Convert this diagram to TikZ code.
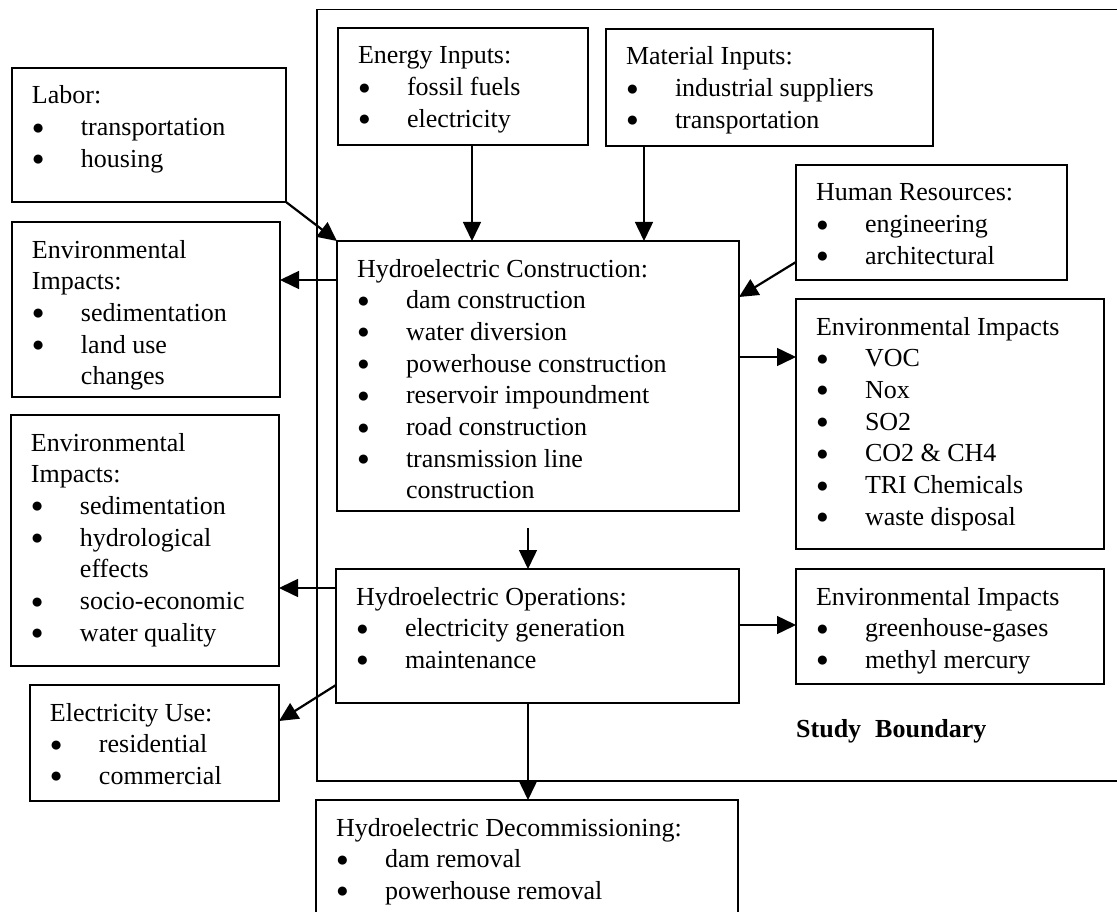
\documentclass[tikz,border=0pt]{standalone}
\usepackage{fontspec}
\setmainfont{Liberation Serif}
\usetikzlibrary{calc,arrows.meta}

% box body: width, height, lines
\newcommand{\blk}[3]{\parbox[c][#2][t]{#1}{\setlength{\leftskip}{20pt}\setlength{\parindent}{0pt}%
  \fontsize{26}{31.7}\selectfont\rule{0pt}{36pt}#3}}
\newcommand{\itm}[1]{\par\makebox[49pt][l]{\raisebox{1.5pt}{\fontsize{21}{21}\selectfont ●}}#1}
\newcommand{\cnt}[1]{\par\hspace*{49pt}#1}

\begin{document}
\begin{tikzpicture}[x=1pt, y=-1pt,
    infobox/.style={draw, line width=1.7pt, inner sep=0pt, outer sep=0pt, anchor=north west},
    arr/.style={-{Triangle[length=19pt,width=18pt]}, line width=1.5pt},
    diag/.style={arr, line width=2.2pt}]
    \clip (0,0) rectangle (1117,912);

    % study boundary
    \draw[line width=1.7pt] (1130,9.5) -- (317,9.5) -- (317,781) -- (1130,781);
    \node[anchor=base west, inner sep=0pt, font=\fontsize{26}{30}\selectfont\bfseries] (sblabel)
      at (796,737) {Study\hspace{14pt}Boundary};

    % inputs
    \node[infobox] (energy) at (338,28)
      {\blk{250pt}{117pt}{Energy Inputs:\itm{fossil fuels}\itm{electricity}}};
    \node[infobox] (material) at (606,29)
      {\blk{327pt}{117pt}{Material Inputs:\itm{industrial suppliers}\itm{transportation}}};
    \node[infobox] (labor) at (12,68)
      {\blk{274pt}{134pt}{Labor:\itm{transportation}\itm{housing}}};
    \node[infobox] (humres) at (796,165)
      {\blk{271pt}{115pt}{Human Resources:\itm{engineering}\itm{architectural}}};

    % stages
    \node[infobox] (constr) at (337,241)
      {\blk{402pt}{270pt}{Hydroelectric Construction:\itm{dam construction}\itm{water diversion}%
        \itm{powerhouse construction}\itm{reservoir impoundment}\itm{road construction}%
        \itm{transmission line}\cnt{construction}}};
    \node[infobox] (ops) at (336,569)
      {\blk{403pt}{134pt}{Hydroelectric Operations:\itm{electricity generation}\itm{maintenance}}};
    \node[infobox] (decom) at (316,800)
      {\blk{422pt}{150pt}{Hydroelectric Decommissioning:\itm{dam removal}\itm{powerhouse removal}}};

    % impacts and use
    \node[infobox] (envA) at (12,222)
      {\blk{268pt}{175pt}{Environmental\par Impacts:\itm{sedimentation}\itm{land use}\cnt{changes}}};
    \node[infobox] (envB) at (11,415)
      {\blk{268pt}{251pt}{Environmental\par Impacts:\itm{sedimentation}\itm{hydrological}\cnt{effects}%
        \itm{socio-economic}\itm{water quality}}};
    \node[infobox] (elecuse) at (30,685)
      {\blk{249pt}{116pt}{Electricity Use:\itm{residential}\itm{commercial}}};
    \node[infobox] (envC) at (796,299)
      {\blk{308pt}{250pt}{Environmental Impacts\itm{VOC}\itm{Nox}\itm{SO2}\itm{CO2 \& CH4}%
        \itm{TRI Chemicals}\itm{waste disposal}}};
    \node[infobox] (envD) at (796,569)
      {\blk{308pt}{115pt}{Environmental Impacts\itm{greenhouse-gases}\itm{methyl mercury}}};

    % columns and rows for the connectors
    \coordinate (ecol) at (472,0);
    \coordinate (mcol) at (644,0);
    \coordinate (scol) at (528,0);
    \coordinate (crow1) at (0,280);
    \coordinate (crow2) at (0,357);
    \coordinate (orow1) at (0,588);
    \coordinate (orow2) at (0,625);
    \coordinate (opin) at (528,528);

    \draw[arr] (ecol |- energy.south) -- (ecol |- constr.north);
    \draw[arr] (mcol |- material.south) -- (mcol |- constr.north);
    \draw[diag] (labor.south east) -- (constr.north west);
    \draw[diag] ($(humres.south west)+(0,-18)$) -- ($(constr.north east)+(0,56)$);
    \draw[arr] (constr.west |- crow1) -- (envA.east |- crow1);
    \draw[arr] (constr.east |- crow2) -- (envC.west |- crow2);
    \draw[arr] (opin) -- (scol |- ops.north);
    \draw[arr] (ops.west |- orow1) -- (envB.east |- orow1);
    \draw[arr] (ops.east |- orow2) -- (envD.west |- orow2);
    \draw[diag] ($(ops.south west)+(0,-18)$) -- ($(elecuse.north east)+(0,36)$);
    \draw[arr] (scol |- ops.south) -- (scol |- decom.north);
\end{tikzpicture}
\end{document}
